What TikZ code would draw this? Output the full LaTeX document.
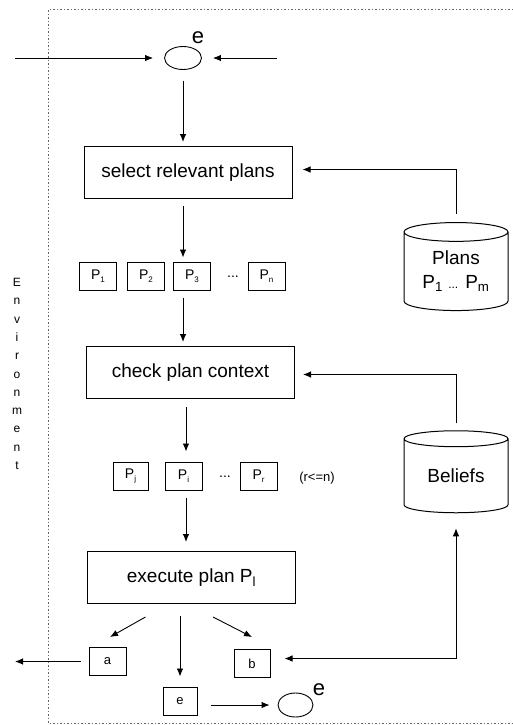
\documentclass[tikz,border=0pt]{standalone}
\usepackage{fontspec}
\setmainfont{Liberation Sans}
\usetikzlibrary{shapes,arrows.meta}
\newcommand{\psub}[1]{\raisebox{-0.35ex}{\fontsize{8}{8}\selectfont #1}}
\tikzstyle{proc}=[rectangle,draw=black,line width=1pt,minimum width=208pt,
  minimum height=52pt,inner sep=3pt,font=\fontsize{19}{22}\selectfont]
\tikzstyle{pbox}=[rectangle,draw=black,line width=1pt,minimum width=37pt,
  minimum height=28pt,inner sep=1pt,font=\fontsize{14}{16}\selectfont]
\tikzstyle{evt}=[ellipse,draw=black,line width=0.9pt,minimum width=37pt,
  minimum height=23pt,inner sep=0pt]
\tikzstyle{store}=[cylinder,shape border rotate=90,draw=black,line width=1pt,aspect=0.28,
  minimum width=104pt,minimum height=88pt,inner sep=0pt,align=center,font=\fontsize{19}{24}\selectfont]
\tikzstyle{arr}=[-{Latex[length=8pt,width=6.5pt]},line width=0.9pt]
\tikzstyle{arr2}=[{Latex[length=8pt,width=6.5pt]}-{Latex[length=8pt,width=6.5pt]},line width=0.9pt]
\tikzstyle{envline}=[line width=1pt,dash pattern=on 1.5pt off 2pt,black!60]

\begin{document}
\begin{tikzpicture}[x=1pt,y=-1pt]
        \useasboundingbox (0,0) rectangle (513,725);
        \draw[envline] (513,10) -- (48,10) -- (48,723) -- (513,723);
        \node [font=\fontsize{12}{18.3}\selectfont,align=center] (env) at (17,374)
          {E\\n\\v\\i\\r\\o\\n\\m\\e\\n\\t};
        % incoming event
        \node [style=evt] (ein) at (183,58) {};
        \node [font=\fontsize{22}{22}\selectfont] (einl) at (198,38) {e};
        \coordinate (lin) at (15,58);
        \coordinate (rin) at (277,58);
        \node [style=proc] (sel) at (188,172.5) {select relevant plans};
        \node [style=pbox] (p1) at (98,276) {P\psub{1}};
        \node [style=pbox] (p2) at (146,276) {P\psub{2}};
        \node [style=pbox] (p3) at (192,276) {P\psub{3}};
        \node [font=\fontsize{14}{16}\selectfont] (dots) at (233,277) {...};
        \node [style=pbox] (pn) at (266.5,276) {P\psub{n}};
        \node [style=proc] (chk) at (190.5,372.5) {check plan context};
        \node [style=pbox,minimum width=35pt] (pj) at (130.5,476) {P\psub{j}};
        \node [style=pbox] (pi) at (183.5,476) {P\psub{i}};
        \node [font=\fontsize{14}{16}\selectfont] (dots2) at (225,477) {...};
        \node [style=pbox] (pr) at (258.5,476) {P\psub{r}};
        \node [font=\fontsize{13}{15}\selectfont] (cond) at (317,478) {(r<=n)};
        \node [style=proc] (exe) at (191.5,577.5) {execute plan P\textsubscript{l}};
        \node [style=pbox,font=\fontsize{13}{15}\selectfont] (a) at (107.5,661.5) {a};
        \node [style=pbox,minimum width=36pt,font=\fontsize{13}{15}\selectfont] (b) at (252,663.5) {b};
        \node [style=pbox,minimum width=34pt,font=\fontsize{13}{15}\selectfont] (eb) at (180,701) {e};
        \coordinate (lout) at (15,661.5);
        % outgoing event
        \node [style=evt,minimum width=35pt,minimum height=24pt] (eout) at (295.5,705) {};
        \node [font=\fontsize{22}{22}\selectfont] (eoutl) at (319,690) {e};
        % stores
        \node [style=store] (plans) at (456,271.5) {Plans\\P\textsubscript{1} {\fontsize{12}{12}\selectfont...} P\textsubscript{m}};
        \node [style=store,minimum height=82pt] (bel) at (456,476) {Beliefs};
        \draw[arr] (lin) to ([xshift=-11pt]ein.west);
        \draw[arr] (rin) to ([xshift=11pt]ein.east);
        \draw[arr] ([yshift=-11pt]ein.south) to ([yshift=4pt]ein.south |- sel.north);
        \draw[arr] ([yshift=-7pt]ein.south |- sel.south) to ([yshift=4pt]ein.south |- p3.north);
        \draw[arr] ([yshift=-7pt]ein.south |- p3.south) to ([yshift=4pt]ein.south |- chk.north);
        \draw[arr] ([xshift=2.5pt,yshift=-8pt]pi.north |- chk.south) to ([xshift=2.5pt,yshift=10pt]pi.north);
        \draw[arr] ([xshift=2.5pt,yshift=-7pt]pi.south) to ([xshift=2.5pt,yshift=9pt]pi.south |- exe.north);
        \draw[arr] ([yshift=8pt]plans.north) |- ([xshift=10pt,yshift=3pt]sel.east);
        \draw[arr] ([yshift=7pt]bel.north) |- ([xshift=8pt,yshift=-2pt]chk.east);
        \draw[arr] ([xshift=-46pt,yshift=-13pt]exe.south) to ([xshift=2.5pt,yshift=10pt]a.north);
        \draw[arr] ([xshift=-11.5pt,yshift=-12pt]exe.south) to ([yshift=10pt]eb.north);
        \draw[arr] ([xshift=21.5pt,yshift=-13pt]exe.south) to ([yshift=12pt]b.north);
        \draw[arr] ([xshift=-8pt]a.west) to (lout);
        \draw[arr] ([xshift=13pt,yshift=-4pt]eb.east) to ([xshift=-8pt]eout.west);
        \draw[arr2] ([xshift=14pt,yshift=5pt]b.east) -| ([yshift=-15pt]bel.south);
    \end{tikzpicture}
\end{document}
